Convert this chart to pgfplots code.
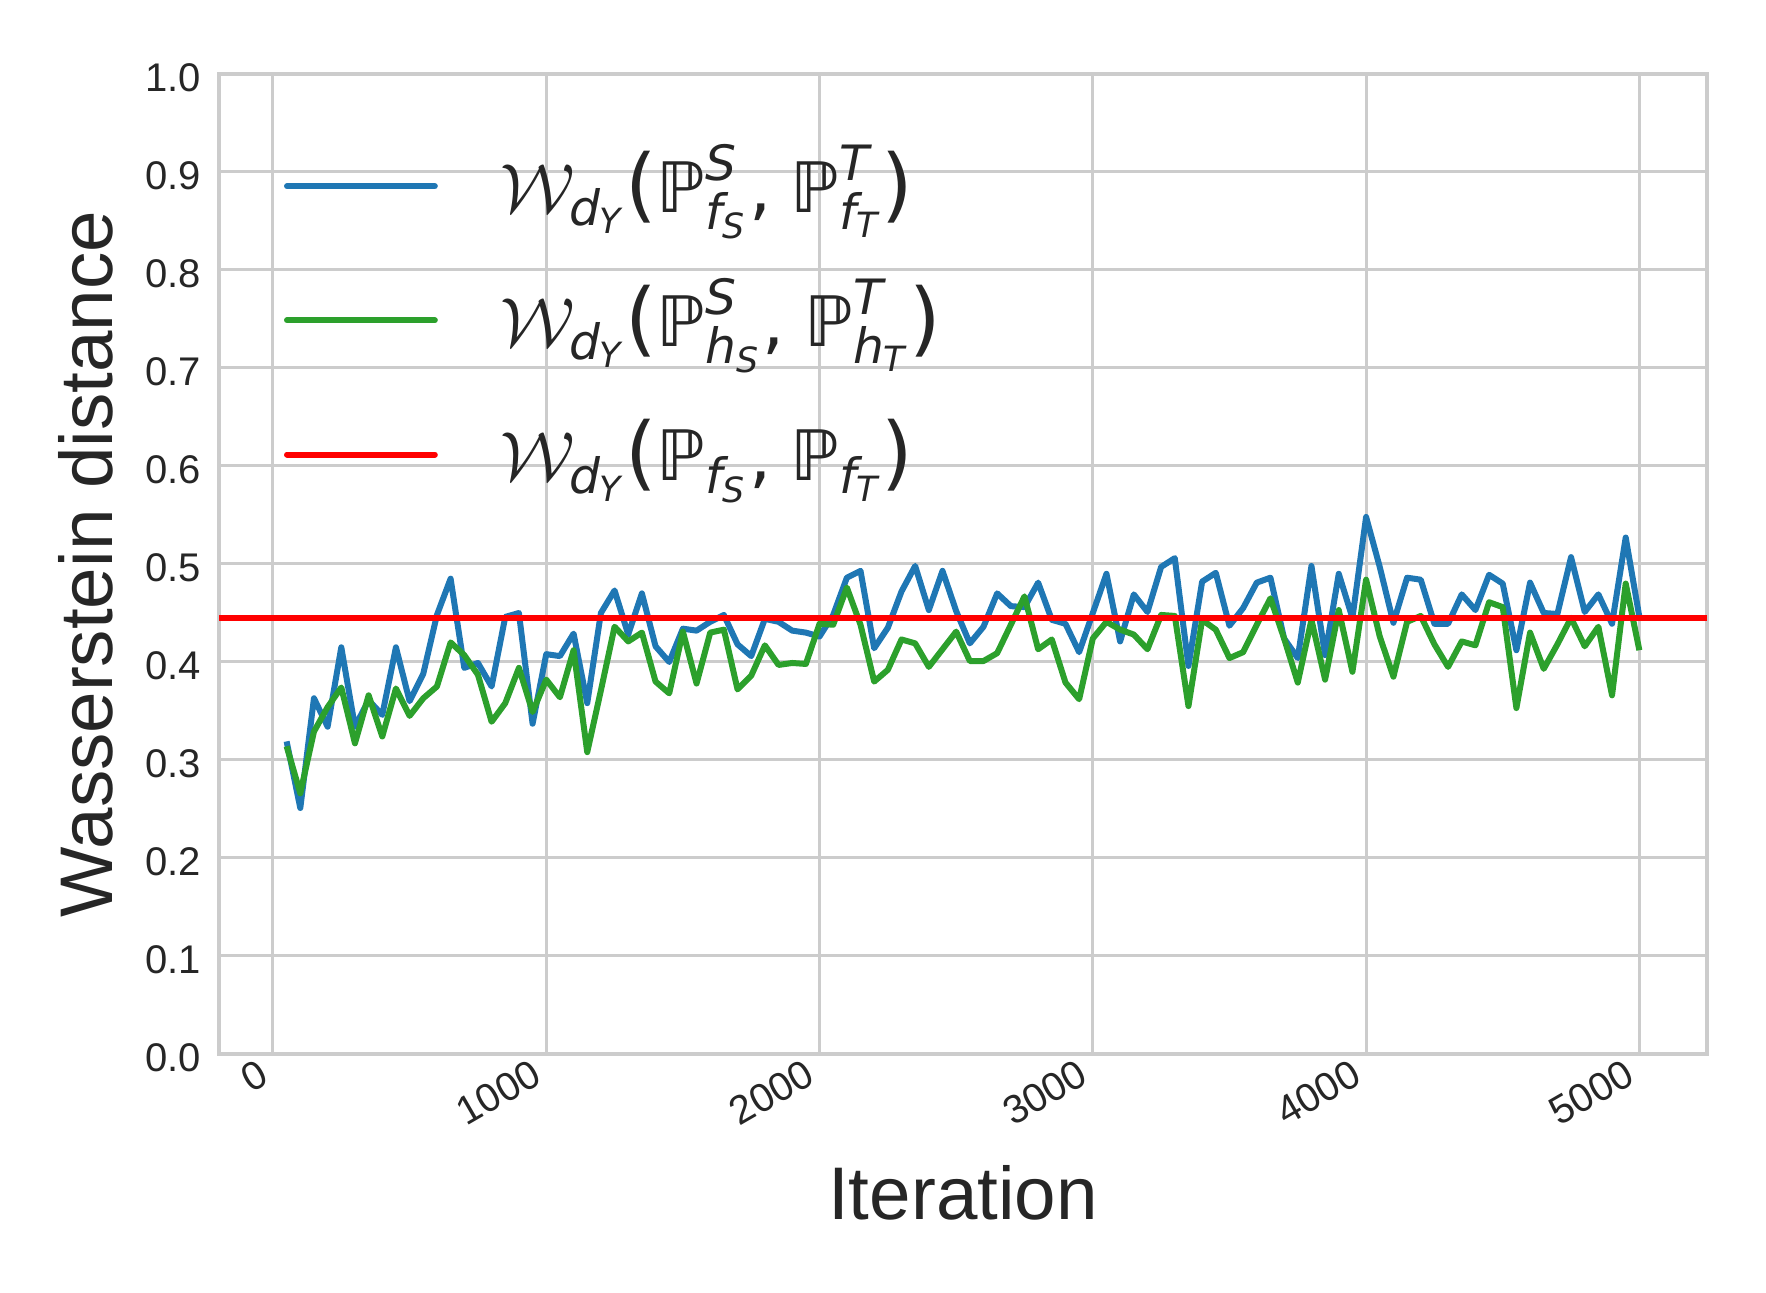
\documentclass[border=0pt]{standalone}
\IfFileExists{fix-cm.sty}{\usepackage{fix-cm}}{}
\usepackage{amsmath}
\usepackage{fontspec}
\setmainfont{Liberation Sans}
\newfontfamily\dv{DejaVu Sans}
\usepackage{pgfplots}
\pgfplotsset{compat=1.18}
\usepackage{pgfplotstable}

\definecolor{mplblue}{HTML}{1F77B4}
\definecolor{mplgreen}{HTML}{2CA02C}
\definecolor{gridgray}{HTML}{CCCCCC}
\definecolor{txt}{HTML}{262626}

\newcommand\vi[1]{\text{\dv\itshape #1}}
\newcommand\PP{\text{\dv ℙ}}
\newcommand\lp{\text{\dv\fontsize{19.4bp}{19.4bp}\selectfont(}}
\newcommand\rp{\text{\dv\fontsize{19.4bp}{19.4bp}\selectfont)}}
\newcommand\cm{\text{\dv,}\;}

\pgfplotstableread{
it b g
50 0.319 0.314
100 0.251 0.266
150 0.363 0.329
200 0.334 0.354
250 0.415 0.374
300 0.334 0.317
350 0.361 0.366
400 0.346 0.324
450 0.415 0.373
500 0.360 0.345
550 0.388 0.363
600 0.448 0.375
650 0.485 0.420
700 0.394 0.407
750 0.399 0.387
800 0.375 0.339
850 0.446 0.358
900 0.450 0.394
950 0.337 0.349
1000 0.408 0.382
1050 0.406 0.364
1100 0.429 0.412
1150 0.358 0.308
1200 0.450 0.371
1250 0.473 0.436
1300 0.428 0.421
1350 0.470 0.430
1400 0.416 0.380
1450 0.400 0.368
1500 0.434 0.431
1550 0.432 0.378
1600 0.441 0.430
1650 0.448 0.433
1700 0.418 0.372
1750 0.406 0.386
1800 0.444 0.417
1850 0.441 0.397
1900 0.432 0.399
1950 0.430 0.398
2000 0.426 0.439
2050 0.448 0.438
2100 0.486 0.476
2150 0.493 0.438
2200 0.414 0.380
2250 0.435 0.392
2300 0.472 0.423
2350 0.498 0.419
2400 0.453 0.395
2450 0.493 0.413
2500 0.452 0.431
2550 0.419 0.401
2600 0.436 0.401
2650 0.470 0.409
2700 0.457 0.438
2750 0.456 0.467
2800 0.481 0.413
2850 0.443 0.423
2900 0.439 0.379
2950 0.410 0.362
3000 0.450 0.424
3050 0.490 0.441
3100 0.421 0.433
3150 0.469 0.428
3200 0.451 0.413
3250 0.497 0.448
3300 0.506 0.447
3350 0.396 0.355
3400 0.482 0.443
3450 0.491 0.433
3500 0.437 0.404
3550 0.455 0.410
3600 0.481 0.438
3650 0.486 0.465
3700 0.424 0.424
3750 0.404 0.379
3800 0.498 0.443
3850 0.407 0.382
3900 0.490 0.453
3950 0.445 0.390
4000 0.548 0.484
4050 0.497 0.426
4100 0.440 0.385
4150 0.486 0.441
4200 0.484 0.447
4250 0.439 0.418
4300 0.439 0.395
4350 0.469 0.421
4400 0.453 0.417
4450 0.489 0.461
4500 0.480 0.456
4550 0.412 0.353
4600 0.481 0.430
4650 0.450 0.393
4700 0.449 0.418
4750 0.507 0.445
4800 0.451 0.416
4850 0.469 0.436
4900 0.439 0.366
4950 0.527 0.480
5000 0.446 0.412
}\wdata

\begin{document}
\begin{tikzpicture}
\path[use as bounding box] (0,0) rectangle (423.84bp,310.32bp);
\begin{axis}[
  at={(52.56bp,57.36bp)}, anchor=south west,
  width=357.12bp, height=235.2bp, scale only axis,
  xmin=-197.5, xmax=5247.5, ymin=0, ymax=1,
  xtick={0,1000,2000,3000,4000,5000},
  ytick={0,0.1,0.2,0.3,0.4,0.5,0.6,0.7,0.8,0.9,1},
  grid=major,
  major grid style={draw=gridgray, line width=0.72bp},
  axis line style={draw=gridgray, line width=0.9bp},
  major tick length=0pt, tick style={draw=none},
  /pgf/number format/assume math mode=true,
  ticklabel style={font=\fontsize{9.6bp}{11bp}\selectfont, text=txt, inner sep=0pt},
  yticklabel style={/pgf/number format/fixed, /pgf/number format/fixed zerofill, /pgf/number format/precision=1, anchor=east, xshift=-4.15bp, yshift=-1bp},
  xticklabel style={/pgf/number format/1000 sep={}, xshift=-3.9bp, yshift=-0.7bp, rotate=30, anchor=north east},
  xlabel={Iteration}, ylabel={Wasserstein distance},
  label style={font=\fontsize{17.9bp}{21bp}\selectfont, text=txt},
  xlabel style={at={(axis description cs:0.5,-0.16837)}, anchor=base},
  ylabel style={at={(axis description cs:-0.07124,0.5)}, anchor=base},
  legend style={draw=none, fill=none, inner sep=0pt, outer sep=0pt,
    at={(axis description cs:0.04368,0.94418)}, anchor=north west,
    row sep=0pt, column sep=15bp, font=\fontsize{16.7bp}{19bp}\selectfont,
    text=txt, cells={anchor=base west}, nodes={inner sep=0pt, text height=20bp, text depth=12.2bp}},
  legend image code/.code={\draw[#1, line cap=round] (0.72bp,6.2bp) -- (36.2bp,6.2bp);},
]
\addplot[mplblue, line width=1.44bp, line join=round] table[x=it, y=b] {\wdata};
\addlegendentry{$\mathcal{W}_{\vi{d}_{\vi{Y}}}\lp\PP^{\vi{S}}_{\vi{f}_{\vi{S}}}\cm\PP^{\vi{T}}_{\vi{f}_{\vi{T}}}\rp$}
\addplot[mplgreen, line width=1.44bp, line join=round] table[x=it, y=g] {\wdata};
\addlegendentry{$\mathcal{W}_{\vi{d}_{\vi{Y}}}\lp\PP^{\vi{S}}_{\vi{h}_{\vi{S}}}\cm\PP^{\vi{T}}_{\vi{h}_{\vi{T}}}\rp$}
\addplot[red, line width=1.44bp] coordinates {(-197.5,0.445) (5247.5,0.445)};
\addlegendentry{$\mathcal{W}_{\vi{d}_{\vi{Y}}}\lp\PP_{\vi{f}_{\vi{S}}}\cm\PP_{\vi{f}_{\vi{T}}}\rp$}
\end{axis}
\end{tikzpicture}
\end{document}
